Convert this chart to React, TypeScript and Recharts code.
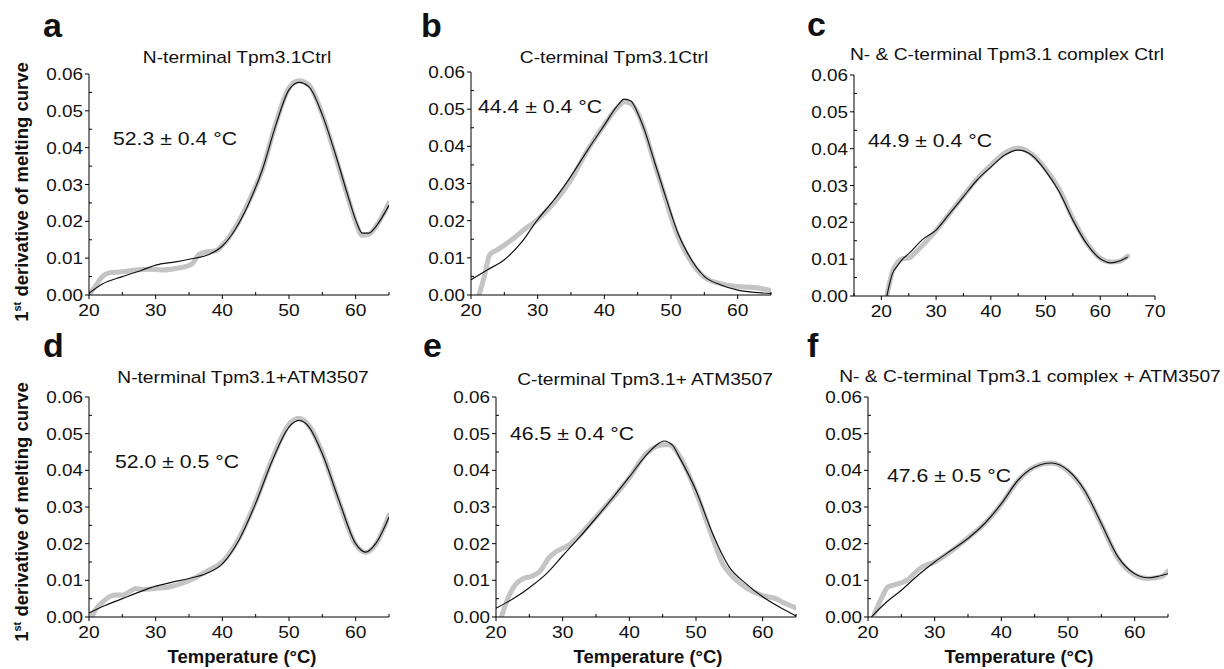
import React from 'react'
import { LineChart, Line, XAxis, YAxis } from 'recharts'

// tick values
const yTicks = [0, 0.005, 0.01, 0.015, 0.02, 0.025, 0.03, 0.035, 0.04, 0.045, 0.05, 0.055, 0.06]
const xTicks = [20, 25, 30, 35, 40, 45, 50, 55, 60, 65]
const xTicksWide = [15, 20, 25, 30, 35, 40, 45, 50, 55, 60, 65, 70]

// a: N-terminal Tpm3.1Ctrl
const aFitT = [20, 22, 25, 28, 30, 33, 35, 38, 40, 42, 44, 46, 48, 50, 51.5, 53, 55, 57, 59, 60, 61, 62, 63, 65]
const aFitV = [0.0005, 0.003, 0.005, 0.0068, 0.0081, 0.009, 0.0097, 0.011, 0.0133, 0.018, 0.025, 0.034, 0.046, 0.0557, 0.0577, 0.0565, 0.0489, 0.038, 0.026, 0.0204, 0.0168, 0.0168, 0.0185, 0.0244]
const aDataT = [20, 21, 22, 23, 25, 27, 29, 31, 33, 35, 35.5, 36.5, 38, 39, 40, 42, 44, 46, 48, 50, 51.5, 53, 55, 57, 59, 60, 61, 62, 63, 65]
const aDataV = [0, 0.0025, 0.005, 0.006, 0.0063, 0.0068, 0.007, 0.0068, 0.0072, 0.008, 0.0085, 0.011, 0.0118, 0.012, 0.0135, 0.0185, 0.0255, 0.034, 0.0465, 0.0562, 0.0582, 0.057, 0.049, 0.0375, 0.0255, 0.0198, 0.0162, 0.0165, 0.0185, 0.025]

// b: C-terminal Tpm3.1Ctrl
const bFitT = [20, 22.5, 25, 27.5, 30, 32.5, 35, 37.5, 40, 42, 43, 44, 45, 46, 47.5, 49, 50, 51, 52.5, 55, 57.5, 60, 62.5, 65]
const bFitV = [0.0041, 0.0068, 0.0095, 0.014, 0.0203, 0.0257, 0.032, 0.039, 0.0457, 0.051, 0.0527, 0.0522, 0.049, 0.0445, 0.036, 0.0275, 0.022, 0.0168, 0.0112, 0.005, 0.0027, 0.0013, 0.0007, 0.0004]
const bDataT = [21.2, 22, 22.8, 24, 26.5, 28, 30, 32.5, 35, 37.5, 40, 42, 43, 44, 45, 46, 47.5, 49, 50, 51, 52.5, 55, 57.5, 60, 62.5, 65]
const bDataV = [0, 0.005, 0.0108, 0.0122, 0.0154, 0.0176, 0.0203, 0.0249, 0.031, 0.039, 0.0458, 0.0505, 0.052, 0.0515, 0.049, 0.0445, 0.0355, 0.027, 0.021, 0.016, 0.0105, 0.0048, 0.003, 0.0023, 0.002, 0.0012]

// c: N- & C-terminal Tpm3.1 complex Ctrl
const cFitT = [21, 22, 23, 24, 25, 27.5, 30, 32.5, 35, 37.5, 40, 42.5, 45, 47.5, 50, 52.5, 55, 57.5, 60, 62, 63.5, 65]
const cFitV = [0, 0.006, 0.0083, 0.0102, 0.0115, 0.0153, 0.0179, 0.0224, 0.027, 0.0315, 0.035, 0.0382, 0.0396, 0.0382, 0.034, 0.0283, 0.0206, 0.0142, 0.0101, 0.009, 0.0095, 0.0106]
const cDataT = [21, 22, 23, 24, 25, 26, 28, 30, 32.5, 35, 37.5, 40, 42.5, 45, 47.5, 50, 52.5, 55, 57.5, 60, 62, 63.5, 65]
const cDataV = [0, 0.0065, 0.0092, 0.0102, 0.0103, 0.0115, 0.0145, 0.0178, 0.0225, 0.0272, 0.0318, 0.0355, 0.0388, 0.0402, 0.0385, 0.0345, 0.029, 0.021, 0.0145, 0.0102, 0.0092, 0.0094, 0.0108]

// d: N-terminal Tpm3.1+ATM3507
const dFitT = [20, 22.5, 25, 27.5, 30, 32.5, 35, 37.5, 40, 42.5, 45, 47.5, 50, 51.5, 53, 55, 57.5, 60, 61.5, 63, 65]
const dFitV = [0.0011, 0.0032, 0.005, 0.0068, 0.0084, 0.0095, 0.0105, 0.0118, 0.0145, 0.021, 0.031, 0.0427, 0.0518, 0.0536, 0.0518, 0.0445, 0.0318, 0.02, 0.0177, 0.02, 0.0273]
const dDataT = [20.5, 21, 22, 23, 24, 25, 26, 27, 28, 30, 32, 34, 36, 38, 40, 42.5, 45, 47.5, 50, 51.5, 53, 55, 57.5, 60, 61.5, 63, 65]
const dDataV = [0.0005, 0.002, 0.004, 0.0055, 0.006, 0.006, 0.0068, 0.0078, 0.0075, 0.0078, 0.0082, 0.0092, 0.0108, 0.0128, 0.015, 0.0215, 0.0315, 0.0432, 0.0525, 0.0542, 0.0522, 0.0448, 0.0315, 0.0198, 0.0176, 0.0198, 0.0278]

// e: C-terminal Tpm3.1+ ATM3507
const eFitT = [20, 22.5, 25, 27.5, 30, 32.5, 35, 37.5, 40, 42.5, 44, 45.2, 46.5, 47.5, 50, 52.5, 55, 57.5, 60, 62.5, 65]
const eFitV = [0.0024, 0.0049, 0.008, 0.0117, 0.0167, 0.0217, 0.027, 0.0325, 0.0382, 0.0441, 0.0468, 0.048, 0.0468, 0.0436, 0.0345, 0.0227, 0.0136, 0.0091, 0.0055, 0.0027, 0.0003]
const eDataT = [20.8, 22, 23, 24, 25.5, 26.6, 28, 29, 31, 33, 35, 40, 42.5, 44, 45, 46, 47.5, 50, 52.5, 54, 55, 57.5, 60, 62, 63, 65]
const eDataV = [0, 0.006, 0.009, 0.0104, 0.0112, 0.0125, 0.0163, 0.0178, 0.0197, 0.0232, 0.0273, 0.038, 0.0445, 0.0465, 0.047, 0.047, 0.044, 0.034, 0.0215, 0.0145, 0.012, 0.008, 0.0058, 0.005, 0.004, 0.0025]

// f: N- & C-terminal Tpm3.1 complex + ATM3507
const fFitT = [20.5, 22.5, 25, 27.5, 30, 32.5, 35, 37.5, 40, 42.5, 45, 47.5, 50, 52.5, 55, 57.5, 60, 62, 63.5, 65]
const fFitV = [0, 0.0036, 0.0073, 0.0114, 0.015, 0.0182, 0.0214, 0.0255, 0.0309, 0.0373, 0.0409, 0.042, 0.04, 0.0345, 0.0255, 0.0164, 0.0118, 0.0107, 0.0111, 0.0118]
const fDataT = [21, 22, 23, 24, 25, 26, 27, 28, 30, 32.5, 35, 37.5, 40, 42.5, 45, 47.5, 50, 52.5, 55, 57.5, 60, 62, 64, 65]
const fDataV = [0.001, 0.005, 0.0082, 0.0088, 0.0093, 0.0102, 0.012, 0.0135, 0.015, 0.018, 0.0216, 0.0255, 0.0308, 0.0372, 0.041, 0.042, 0.0398, 0.0343, 0.0253, 0.016, 0.0115, 0.0105, 0.011, 0.0125]

const FONT = '"Liberation Sans", Arial, Helvetica, sans-serif'
const pts = (ts: number[], vs: number[]) => ts.map((t, i) => ({ t, v: vs[i] }))

const YTick = (props: any) => {
  const { x, y, payload } = props
  const v = payload.value
  const major = Math.round(v * 1000) % 10 === 0
  if (!major) return <line x1={x} x2={x + 3} y1={y} y2={y} stroke="#000" strokeWidth={1} />
  return (
    <g>
      <line x1={x - 4} x2={x} y1={y} y2={y} stroke="#000" strokeWidth={1} />
      <text transform={`translate(${x - 6},${y + 6}) scale(1.18,1)`} textAnchor="end"
        fontFamily={FONT} fontSize={16} fill="#111">{v.toFixed(2)}</text>
    </g>
  )
}

const XTick = (props: any) => {
  const { x, y, payload } = props
  const v = payload.value
  if (v % 10 !== 0) return <line x1={x} x2={x} y1={y} y2={y - 3} stroke="#000" strokeWidth={1} />
  return (
    <g>
      <line x1={x} x2={x} y1={y} y2={y + 4} stroke="#000" strokeWidth={1} />
      <text transform={`translate(${x},${y + 21}) scale(1.2,1)`} textAnchor="middle"
        fontFamily={FONT} fontSize={16} fill="#111">{v}</text>
    </g>
  )
}

interface PanelProps {
  left: number; right: number; top: number; bottom: number
  domain: [number, number]; ticks: number[]
  data: { t: number; v: number }[]; fit: { t: number; v: number }[]
}

function Panel({ left, right, top, bottom, domain, ticks, data, fit }: PanelProps) {
  const w = right - left + 60
  const h = bottom - top + 40
  return (
    <div style={{ position: 'absolute', left: left - 50, top: top - 10 }}>
      <LineChart width={w} height={h} margin={{ top: 10, right: 10, left: 0, bottom: 0 }}>
        <XAxis type="number" dataKey="t" domain={domain} ticks={ticks} interval={0} allowDataOverflow
          height={30} tickLine={false} tickSize={0} tickMargin={0} tick={<XTick />}
          axisLine={{ stroke: '#000', strokeWidth: 1 }} />
        <YAxis type="number" domain={[0, 0.06]} ticks={yTicks} interval={0} allowDataOverflow
          width={50} tickLine={false} tickSize={0} tickMargin={0} tick={<YTick />}
          axisLine={{ stroke: '#000', strokeWidth: 1 }} />
        <Line data={data} dataKey="v" type="monotone" stroke="#c4c4c4" strokeWidth={5}
          strokeLinecap="round" dot={false} isAnimationActive={false} />
        <Line data={fit} dataKey="v" type="monotone" stroke="#111" strokeWidth={1.2}
          dot={false} isAnimationActive={false} />
      </LineChart>
    </div>
  )
}

function T({ x, y, size = 16, anchor = 'start', bold = false, sx = 1.18, children }: any) {
  return (
    <text transform={`translate(${x},${y}) scale(${sx},1)`} textAnchor={anchor}
      fontFamily={FONT} fontSize={size} fontWeight={bold ? 'bold' : 'normal'} fill="#111">{children}</text>
  )
}

function YLabel({ cy }: { cy: number }) {
  return (
    <text transform={`translate(28,${cy}) rotate(-90)`} textAnchor="middle" fontFamily={FONT}
      fontSize={18.5} fontWeight="bold" fill="#111">
      1<tspan fontSize={11} dy={-7}>st</tspan><tspan dy={7}> derivative of melting curve</tspan>
    </text>
  )
}

export default function App() {
  return (
    <div style={{ position: 'absolute', left: 0, top: 0, width: 1224, height: 669, background: '#fff' }}>
      <Panel left={89} right={389} top={74} bottom={295} domain={[20, 65]} ticks={xTicks} data={pts(aDataT, aDataV)} fit={pts(aFitT, aFitV)} />
      <Panel left={471} right={771} top={72} bottom={295} domain={[20, 65]} ticks={xTicks} data={pts(bDataT, bDataV)} fit={pts(bFitT, bFitV)} />
      <Panel left={854} right={1155} top={75} bottom={296} domain={[15, 70]} ticks={xTicksWide} data={pts(cDataT, cDataV)} fit={pts(cFitT, cFitV)} />
      <Panel left={89} right={389} top={397} bottom={617} domain={[20, 65]} ticks={xTicks} data={pts(dDataT, dDataV)} fit={pts(dFitT, dFitV)} />
      <Panel left={496} right={796} top={397} bottom={617} domain={[20, 65]} ticks={xTicks} data={pts(eDataT, eDataV)} fit={pts(eFitT, eFitV)} />
      <Panel left={868} right={1168} top={397} bottom={617} domain={[20, 65]} ticks={xTicks} data={pts(fDataT, fDataV)} fit={pts(fFitT, fFitV)} />
      <svg width={1224} height={669} style={{ position: 'absolute', left: 0, top: 0, pointerEvents: 'none' }}>
        <T x={43} y={37} size={34} bold sx={1}>a</T>
        <T x={421} y={37} size={34} bold sx={1}>b</T>
        <T x={807} y={36} size={34} bold sx={1}>c</T>
        <T x={43} y={357} size={34} bold sx={1}>d</T>
        <T x={423} y={357} size={34} bold sx={1}>e</T>
        <T x={807} y={357} size={34} bold sx={1}>f</T>

        <T x={237} y={63} anchor="middle" sx={1.2}>N-terminal Tpm3.1Ctrl</T>
        <T x={614} y={63} anchor="middle" sx={1.2}>C-terminal Tpm3.1Ctrl</T>
        <T x={1007} y={60} anchor="middle" sx={1.2}>N- &amp; C-terminal Tpm3.1 complex Ctrl</T>
        <T x={243} y={383} anchor="middle" sx={1.2}>N-terminal Tpm3.1+ATM3507</T>
        <T x={645} y={385} anchor="middle" sx={1.2}>C-terminal Tpm3.1+ ATM3507</T>
        <T x={1030} y={382} anchor="middle" sx={1.2}>N- &amp; C-terminal Tpm3.1 complex + ATM3507</T>

        <T x={113} y={145} size={18}>52.3 ± 0.4 °C</T>
        <T x={478} y={113} size={18}>44.4 ± 0.4 °C</T>
        <T x={868} y={147} size={18}>44.9 ± 0.4 °C</T>
        <T x={115} y={468} size={18}>52.0 ± 0.5 °C</T>
        <T x={510} y={440} size={18}>46.5 ± 0.4 °C</T>
        <T x={887} y={482} size={18}>47.6 ± 0.5 °C</T>

        <YLabel cy={192} />
        <YLabel cy={512} />

        <T x={242} y={663} size={18.5} bold anchor="middle" sx={1}>Temperature (°C)</T>
        <T x={648} y={663} size={18.5} bold anchor="middle" sx={1}>Temperature (°C)</T>
        <T x={1019} y={663} size={18.5} bold anchor="middle" sx={1}>Temperature (°C)</T>
      </svg>
    </div>
  )
}
